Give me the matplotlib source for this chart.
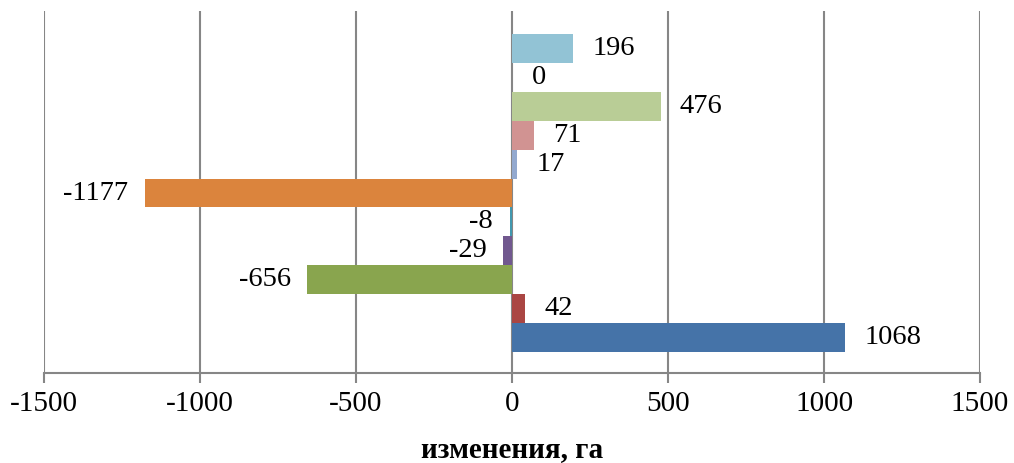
import matplotlib
matplotlib.use("Agg")
import matplotlib.pyplot as plt

# Changes in area (ha), listed bottom to top
values = [1068, 42, -656, -29, -8, -1177, 17, 71, 476, 0, 196]
colors = ["#4573A8", "#AA4643", "#89A54E", "#71588F", "#4198AF", "#DB843D",
          "#93A9CF", "#D19392", "#B9CD96", "#A99BBD", "#92C3D5"]
xticks = [-1500, -1000, -500, 0, 500, 1000, 1500]
xlabel = "изменения, га"

plt.rcParams["font.family"] = ["Liberation Serif", "DejaVu Serif"]

fig = plt.figure(figsize=(10.14, 4.63), dpi=100)
ax = fig.add_axes([44 / 1014, (463 - 373) / 463, (980 - 44) / 1014, (373 - 11) / 463])

grid_color = "#868686"
positions = list(range(len(values)))
ax.barh(positions, values, height=1.0, color=colors, zorder=2)

ax.set_xlim(xticks[0], xticks[-1])
ax.set_ylim(-1.23, 11.3)
ax.set_xticks(xticks)
ax.set_xticklabels([str(t) for t in xticks], fontsize=21)
ax.set_yticks([])

for x in xticks:
    ax.axvline(x, color=grid_color, lw=1.5, zorder=1)

for s in ["top", "right", "left"]:
    ax.spines[s].set_visible(False)
ax.spines["bottom"].set_color(grid_color)
ax.spines["bottom"].set_linewidth(1.5)
ax.tick_params(axis="x", direction="out", length=7, width=1.5, color=grid_color,
               pad=6)

for y, v in zip(positions, values):
    if v >= 0:
        ax.annotate(str(v), (v, y), xytext=(14, 0), textcoords="offset points",
                    ha="left", va="center", fontsize=20.5)
    else:
        ax.annotate(str(v), (v, y), xytext=(-12, 0), textcoords="offset points",
                    ha="right", va="center", fontsize=20.5)

ax.set_xlabel(xlabel, fontsize=21, fontweight="bold", labelpad=14)

fig.savefig("out.png", dpi=100)
